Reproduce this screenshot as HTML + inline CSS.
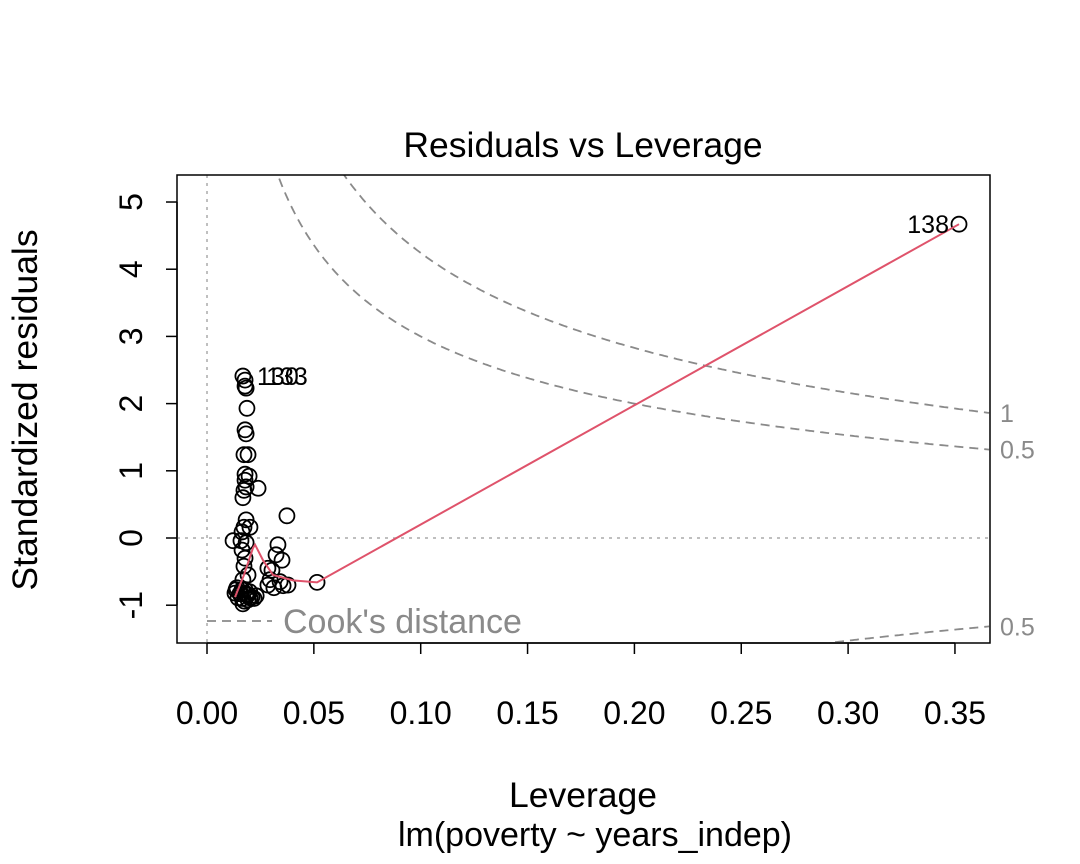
<!DOCTYPE html>
<html><head><meta charset="utf-8"><style>
html,body{margin:0;padding:0;background:#fff;overflow:hidden;width:1080px;height:864px;}
svg{display:block;font-family:"Liberation Sans",Arial,sans-serif;}
</style></head><body>
<svg id="chart" width="1080" height="864" viewBox="0 0 1080 864">
<text x="583" y="157" font-size="35.5" text-anchor="middle">Residuals vs Leverage</text>
<text x="583" y="807" font-size="35.5" text-anchor="middle">Leverage</text>
<text x="595" y="846" font-size="34" text-anchor="middle">lm(poverty ~ years_indep)</text>
<text transform="translate(37,410) rotate(-90)" font-size="35.5" text-anchor="middle">Standardized residuals</text>
<g id="xaxis"></g>
<g id="yaxis"></g>
<g id="plot"></g>
<rect x="177" y="175" width="813" height="468" fill="none" stroke="#000" stroke-width="1.5"/>
</svg>
<script>
const leverage = [0.0168,0.0178,0.0183,0.0178,0.0187,0.0183,0.0178,0.0192,0.0173,0.0178,0.0197,0.0178,0.0173,0.0183,0.0168,0.0239,0.0183,0.0173,0.0164,0.0159,0.0122,0.0183,0.0201,0.0164,0.0178,0.0173,0.0192,0.0168,0.0178,0.0192,0.0164,0.0154,0.0136,0.0145,0.0168,0.0183,0.0201,0.0140,0.0131,0.0332,0.0323,0.0304,0.0295,0.0285,0.0313,0.0342,0.0356,0.0351,0.0374,0.0379,0.0285,0.0515,0.0190,0.0200,0.0210,0.0220,0.0230,0.0175,0.0165,0.0160,0.3519];
const stdres = [2.41,2.35,2.23,2.26,1.93,1.55,1.61,1.24,1.24,0.95,0.92,0.86,0.71,0.76,0.60,0.74,0.27,0.16,0.09,-0.04,-0.04,-0.07,0.16,-0.18,-0.30,-0.42,-0.55,-0.62,-0.77,-0.92,-0.77,-0.83,-0.77,-0.89,-0.98,-0.83,-0.89,-0.74,-0.82,-0.10,-0.25,-0.48,-0.62,-0.70,-0.74,-0.65,-0.71,-0.33,0.33,-0.70,-0.45,-0.66,-0.85,-0.80,-0.88,-0.90,-0.86,-0.94,-0.90,-0.83,4.67];
const smoothX = [0.0131,0.0173,0.0215,0.0225,0.0262,0.0309,0.0402,0.0515,0.3519];
const smoothY = [-0.88,-0.55,-0.15,-0.10,-0.33,-0.55,-0.63,-0.66,4.67];
const labelText = ["138","130","133"];
const labelX = [0.3519,0.0178,0.0183];
const labelY = [4.67,2.41,2.35];
const xTicks = [0,0.05,0.10,0.15,0.20,0.25,0.30,0.35];
const yTicks = [-1,0,1,2,3,4,5];
const cookLevels = [0.5,1];

const NS="http://www.w3.org/2000/svg";
const X0=177,X1=990,Y0=175,Y1=643;
const xmin=-0.01404,xmax=0.3664,ymin=-1.5625,ymax=5.402;
const sx=v=>X0+(v-xmin)/(xmax-xmin)*(X1-X0);
const sy=v=>Y1-(v-ymin)/(ymax-ymin)*(Y1-Y0);
function mk(tag,attrs,parent){const e=document.createElementNS(NS,tag);for(const k in attrs)e.setAttribute(k,attrs[k]);parent.appendChild(e);return e;}
const plot=document.getElementById('plot'),xa=document.getElementById('xaxis'),ya=document.getElementById('yaxis');
mk('line',{x1:X0,x2:X1,y1:sy(0),y2:sy(0),stroke:'#aaa','stroke-width':1.5,'stroke-dasharray':'3,5'},plot);
mk('line',{x1:sx(0),x2:sx(0),y1:Y0,y2:Y1,stroke:'#aaa','stroke-width':1.5,'stroke-dasharray':'3,5'},plot);
xTicks.forEach(t=>{const x=sx(t);
 const l=mk('line',{x1:x,x2:x,y1:Y1,y2:Y1+11,stroke:'#000','stroke-width':1.5},xa);
 
 const tx=mk('text',{x:x,y:Y1+81,'font-size':32,'text-anchor':'middle'},xa);tx.textContent=t.toFixed(2);
 });
mk('line',{x1:sx(0),x2:sx(0.35),y1:Y1,y2:Y1,stroke:'#000','stroke-width':1.5},xa);
yTicks.forEach(t=>{const y=sy(t);
 const l=mk('line',{x1:X0-11,x2:X0,y1:y,y2:y,stroke:'#000','stroke-width':1.5},ya);
 
 const tx=mk('text',{transform:`translate(${X0-35},${y}) rotate(-90)`,'font-size':32,'text-anchor':'middle'},ya);tx.textContent=t;
 });
mk('line',{x1:X0,x2:X0,y1:sy(-1),y2:sy(5),stroke:'#000','stroke-width':1.5},ya);
const cp=document.createElementNS(NS,'clipPath');cp.id='clip';mk('rect',{x:X0,y:Y0,width:X1-X0,height:Y1-Y0},cp);plot.appendChild(cp);
const cg=mk('g',{'clip-path':'url(#clip)'},plot);
cookLevels.forEach(d=>{[1,-1].forEach(s=>{let pts=[];for(let h=0.001;h<=xmax;h+=0.001){const r=s*Math.sqrt(d*2*(1-h)/h);pts.push(sx(h).toFixed(1)+','+sy(r).toFixed(1));}
 const p=mk('polyline',{points:pts.join(' '),fill:'none',stroke:'#8a8a8a','stroke-width':1.8,'stroke-dasharray':'9,6'},cg);
 
 const r=s*Math.sqrt(d*2*(1-xmax)/xmax);
 if(sy(r)>Y0&&sy(r)<Y1+10){const t=mk('text',{x:X1+10,y:sy(r)+9,'font-size':25,fill:'#8a8a8a'},plot);t.textContent=String(d);
 }
});});
leverage.forEach((h,i)=>{const c=mk('circle',{cx:sx(h),cy:sy(stdres[i]),r:7.5,fill:'none',stroke:'#000','stroke-width':1.8},plot);
 });
const sm=mk('polyline',{points:smoothX.map((v,i)=>sx(v)+','+sy(smoothY[i])).join(' '),fill:'none',stroke:'#DF536B','stroke-width':2},plot);

labelText.forEach((s,i)=>{const left=i===0;const t=mk('text',{x:sx(labelX[i])+(left?-10:12+(i-1)*8),y:sy(i===0?labelY[i]:2.41)+9,'font-size':25,'text-anchor':left?'end':'start'},plot);t.textContent=s;
 });
const lg=mk('g',{},plot);
mk('line',{x1:207,x2:272,y1:621,y2:621,stroke:'#8a8a8a','stroke-width':1.8,'stroke-dasharray':'9,6'},lg);
const lt=mk('text',{x:283,y:633,'font-size':34,fill:'#8a8a8a'},lg);lt.textContent="Cook's distance";
</script>
</body></html>
